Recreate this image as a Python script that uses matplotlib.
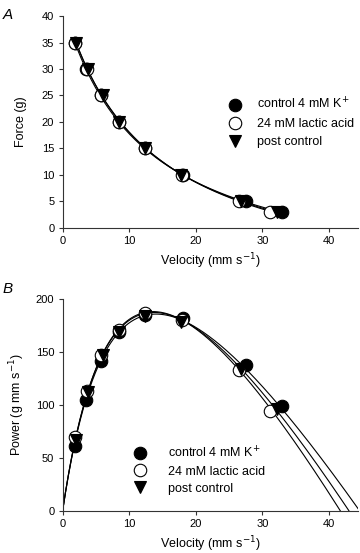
import numpy as np
import matplotlib
matplotlib.use("Agg")
import matplotlib.pyplot as plt
from matplotlib.lines import Line2D

plt.rcParams['font.family'] = ['Liberation Sans', 'DejaVu Sans']

# ---- data ----
force = [35, 30, 25, 20, 15, 10, 5, 3]

vel_control = [1.8, 3.5, 5.7, 8.4, 12.3, 18.1, 27.6, 33.0]
vel_lactic = [1.9, 3.7, 5.8, 8.5, 12.4, 18.0, 26.5, 31.2]
vel_post = [2.0, 3.8, 6.0, 8.5, 12.3, 17.8, 26.8, 32.2]

pow_control = [61, 105, 142, 169, 185, 182, 138, 99]
pow_lactic = [70, 113, 147, 171, 187, 180, 133, 94]
pow_post = [67, 112, 147, 169, 184, 178, 134, 96]

# Hill fit parameters (a, b, Vmax), estimated from the drawn curves
hill_control = (11.24, 11.9, 44.6)
hill_lactic = (12.96, 12.71, 41.7)
hill_post = (12.02, 12.04, 43.0)

labels = ['control 4 mM K$^{+}$', '24 mM lactic acid', 'post control']


def hill_force(v, a, b, vmax):
    return a * (vmax - v) / (v + b)


fig = plt.figure(figsize=(3.6, 5.53), dpi=100)
axA = fig.add_axes([0.174, 0.588, 0.821, 0.383])
axB = fig.add_axes([0.174, 0.0765, 0.821, 0.3825])

series = [
    (vel_control, pow_control, hill_control, dict(marker='o', mfc='black', mec='black')),
    (vel_lactic, pow_lactic, hill_lactic, dict(marker='o', mfc='white', mec='black')),
    (vel_post, pow_post, hill_post, dict(marker='v', mfc='black', mec='black')),
]

# fitted curves first
for vel, pw, (a, b, vmax), st in series:
    v = np.linspace(min(vel), max(vel), 200)
    axA.plot(v, hill_force(v, a, b, vmax), color='black', lw=0.8, zorder=2)
    v2 = np.linspace(0, vmax, 300)
    axB.plot(v2, v2 * hill_force(v2, a, b, vmax), color='black', lw=0.8, zorder=2)

for vel, pw, hill, st in series:
    axA.plot(vel, force, ls='none', ms=9, mew=0.8, zorder=3, **st)
    axB.plot(vel, pw, ls='none', ms=9, mew=0.8, zorder=3, **st)

for ax in (axA, axB):
    ax.spines['top'].set_visible(False)
    ax.spines['right'].set_visible(False)
    for side in ('left', 'bottom'):
        ax.spines[side].set_linewidth(0.8)
        ax.spines[side].set_color('#333333')
    ax.tick_params(direction='out', length=3, width=0.8, color='#333333',
                   labelsize=8, pad=3)
    ax.set_xlim(0, 44.4)
    ax.set_xticks([0, 10, 20, 30, 40])
    ax.set_xlabel('Velocity (mm s$^{-1}$)', fontsize=9, labelpad=4)

axA.set_ylim(0, 40)
axA.set_yticks(range(0, 41, 5))
axA.set_ylabel('Force (g)', fontsize=9, labelpad=11)

axB.set_ylim(0, 200)
axB.set_yticks(range(0, 201, 50))
axB.set_ylabel('Power (g mm s$^{-1}$)', fontsize=9, labelpad=6)

handles = [Line2D([], [], ls='none', ms=9, mew=0.8, **st) for _, _, _, st in series]

axA.legend(handles, labels, frameon=False, fontsize=9, loc='upper left',
           bbox_to_anchor=(0.545, 0.643), handletextpad=1.26, labelspacing=0.5,
           borderaxespad=0, handlelength=1.0)
axB.legend(handles, labels, frameon=False, fontsize=9, loc='upper left',
           bbox_to_anchor=(0.223, 0.332), handletextpad=1.75, labelspacing=0.4,
           borderaxespad=0, handlelength=1.0)

fig.text(0.008, 0.985, 'A', fontsize=11, style='italic', va='top')
fig.text(0.008, 0.49, 'B', fontsize=11, style='italic', va='top')

fig.savefig('out.png', dpi=100)
